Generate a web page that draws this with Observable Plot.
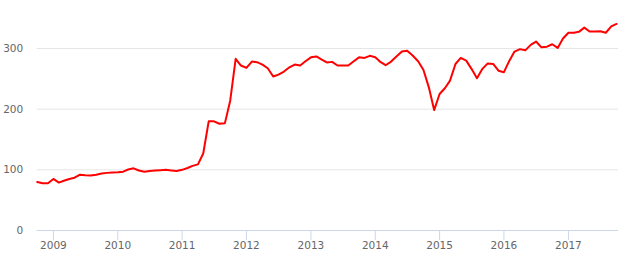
<!DOCTYPE html>
<html>
<head>
<meta charset="utf-8">
<script src="https://cdn.jsdelivr.net/npm/d3@7"></script>
<script src="https://cdn.jsdelivr.net/npm/@observablehq/plot@0.6"></script>
<style>
  html, body { margin: 0; padding: 0; background: #fff; }
</style>
</head>
<body>
<div id="chart"></div>
<script>
// Monthly series starting Oct 2008, ending Oct 2017
const startMonth = "2008-10-01";
const values = [
  80, 78, 78,
  85, 79, 82, 85, 87, 92, 91, 90.5, 92, 94, 95, 95.5,
  96, 97, 100.5, 102.5, 99, 97, 98, 99, 99.5, 100, 99, 98,
  100, 103, 106.5, 109, 127, 180, 180, 176, 177, 214, 283, 272,
  268, 278.5, 277.5, 273.5, 267.5, 254, 257, 262, 269, 273.5, 272, 279,
  285.5, 287, 282, 277, 278, 272, 272, 272, 279, 285.5, 284.5, 288,
  285.5, 277.5, 272.5, 278.5, 287, 295, 296.5, 288.5, 279, 265, 236, 198.5,
  225, 235, 247, 274.5, 284.5, 280, 266.5, 251, 266.5, 275.5, 274.5, 263.5,
  261, 280, 295, 299, 297, 306, 311.5, 302, 303, 307, 301, 316.5,
  326, 326, 327.5, 334.5, 328, 328, 328.5, 326, 336.5, 340.5
];
const yearTicks = [2009, 2010, 2011, 2012, 2013, 2014, 2015, 2016, 2017];
const yTicks = [0, 100, 200, 300];

const start = new Date(startMonth);
const data = values.map((v, i) => ({ date: d3.utcMonth.offset(start, i), value: v }));
const xTicks = yearTicks.map(y => new Date(Date.UTC(y, 0, 1)));
// axis extends a little past the last data point
const domainEnd = d3.utcDay.offset(data[data.length - 1].date, 11);

const chart = Plot.plot({
  width: 618,
  height: 254,
  marginLeft: 36.7,
  marginRight: 0,
  marginTop: 17.7,
  marginBottom: 24,
  style: { fontFamily: "DejaVu Sans", fontSize: "10.5px", background: "#fff", overflow: "visible" },
  x: { type: "utc", domain: [start, domainEnd] },
  y: { domain: [0, 350] },
  marks: [
    Plot.gridY(yTicks.slice(1), { stroke: "#e6e6e6", strokeOpacity: 1 }),
    Plot.ruleY([0], { stroke: "#ccd6eb" }),
    Plot.axisY(yTicks, { tickSize: 0, tickPadding: 14, fill: "#666666", label: null }),
    Plot.axisX(xTicks, { tickSize: 10, tickPadding: 1, stroke: "#ccd6eb", fill: "#666666", tickFormat: d3.utcFormat("%Y"), label: null }),
    Plot.line(data, { x: "date", y: "value", stroke: "#ff0000", strokeWidth: 2, strokeLinejoin: "round", curve: "linear" })
  ]
});
document.getElementById("chart").appendChild(chart);
</script>
</body>
</html>
